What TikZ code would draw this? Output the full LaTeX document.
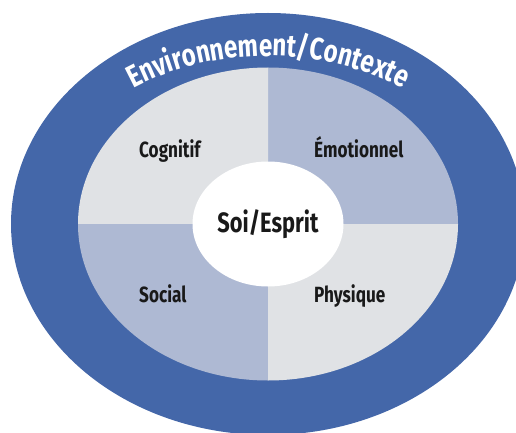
\documentclass[tikz,border=0pt]{standalone}
\usepackage{fontspec}
\setmainfont{Fira Sans}
\newfontfamily\condfont[FakeStretch=0.78]{Fira Sans}
\usetikzlibrary{decorations.text}
\definecolor{envblue}{HTML}{4467A9}
\definecolor{palegray}{HTML}{E0E2E5}
\definecolor{paleblue}{HTML}{AEB9D3}
\begin{document}
\begin{tikzpicture}[x=1pt,y=1pt,
  quadlabel/.style={anchor=base west,inner sep=0pt,text=black!90,
    font=\condfont\bfseries\fontsize{22}{22}\selectfont}]
\useasboundingbox (0,0) rectangle (516,432);
\clip (0,0) rectangle (516,432);
\coordinate (c) at (268,208);
% outer ring
\fill[envblue] (c) ellipse [x radius=257,y radius=211];
% four quadrants
\fill[paleblue] (c) -- ++(190,0) arc[start angle=0,end angle=90,x radius=190,y radius=156.5] -- cycle;
\fill[palegray] (c) -- ++(0,156.5) arc[start angle=90,end angle=180,x radius=190,y radius=156.5] -- cycle;
\fill[paleblue] (c) -- ++(-190,0) arc[start angle=180,end angle=270,x radius=190,y radius=156.5] -- cycle;
\fill[palegray] (c) -- ++(0,-156.5) arc[start angle=270,end angle=360,x radius=190,y radius=156.5] -- cycle;
% core
\fill[white] (c) ellipse [x radius=75.5,y radius=62.5];
\path[decorate,decoration={text along path,text align=center,text color=white,
  text={|\condfont\bfseries\fontsize{31}{31}\selectfont|Environnement/Contexte}}]
  (c) ++(150:228 and 168) arc[start angle=150,end angle=30,x radius=228,y radius=168];
\node[quadlabel] (cog) at (139,275) {Cognitif};
\node[quadlabel] (emo) at (314,275) {Émotionnel};
\node[quadlabel] (soc) at (139,130) {Social};
\node[quadlabel] (phy) at (314,130) {Physique};
\node[quadlabel,anchor=base,font=\condfont\bfseries\fontsize{28}{28}\selectfont] (soi) at (268,200) {Soi/Esprit};
\end{tikzpicture}
\end{document}
